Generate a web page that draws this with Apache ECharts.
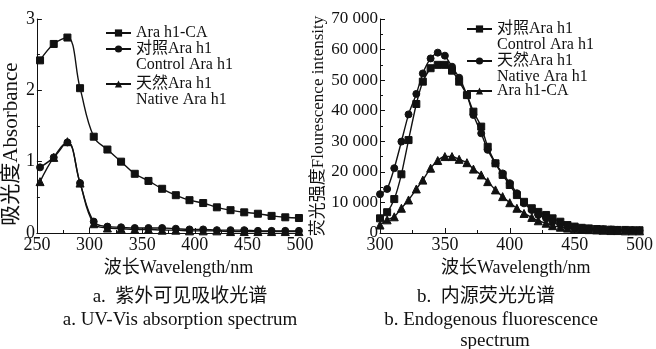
<!DOCTYPE html>
<html>
<head>
<meta charset="utf-8">
<script src="https://cdn.jsdelivr.net/npm/echarts@6/dist/echarts.min.js"></script>
<style>
html,body{margin:0;padding:0;background:#fff;}
#chart{width:656px;height:349px;}
</style>
</head>
<body>
<div id="chart"></div>
<script>
// a. UV-Vis absorption
const uvWave = [253, 266, 279, 291, 304, 317, 330, 343, 356, 369, 382, 395, 408, 421, 434, 447, 460, 473, 486, 499];
const uvCA = [2.42, 2.65, 2.74, 2.03, 1.35, 1.17, 1.00, 0.83, 0.73, 0.62, 0.53, 0.46, 0.42, 0.36, 0.32, 0.29, 0.27, 0.24, 0.22, 0.21];
const uvControl = [0.92, 1.06, 1.27, 0.70, 0.16, 0.09, 0.08, 0.07, 0.07, 0.07, 0.06, 0.05, 0.05, 0.04, 0.04, 0.04, 0.03, 0.03, 0.03, 0.03];
const uvNative = [0.72, 1.06, 1.28, 0.70, 0.13, 0.07, 0.06, 0.05, 0.05, 0.04, 0.04, 0.03, 0.03, 0.03, 0.02, 0.02, 0.02, 0.02, 0.02, 0.02];

// b. endogenous fluorescence
const flWave = [300, 305.5, 311, 316.5, 322, 328, 333, 339, 344.5, 350, 355.5, 361, 367, 372, 378, 383, 389, 394.5, 400,
  405.5, 411, 417, 422, 428, 433, 439, 444.5, 450, 455.5, 461, 467, 472, 478, 483, 489, 494.5, 500];
const flControl = [4800, 6800, 11100, 19200, 30400, 42200, 49500, 53900, 55000, 55000, 53100, 49500, 45100, 39700, 34800, 28200, 22800, 19000, 15700,
  12400, 10200, 8100, 6900, 5900, 4800, 3700, 2600, 2100, 1700, 1500, 1300, 1200, 1100, 1000, 1000, 900, 900];
const flNative = [12700, 14400, 21200, 29900, 38800, 45500, 52200, 57100, 59000, 58000, 54400, 50800, 45100, 38600, 32600, 27200, 22800, 19500, 16300,
  13000, 9700, 7500, 5900, 4800, 3700, 2900, 2300, 1900, 1600, 1400, 1300, 1200, 1100, 1000, 900, 900, 800];
const flCA = [2600, 4300, 5300, 8100, 10800, 14400, 17300, 21200, 23700, 25000, 25000, 24100, 23000, 20900, 19000, 16800, 14100, 11900, 9900,
  8100, 6400, 5100, 4000, 3200, 2400, 1900, 1600, 1400, 1200, 1100, 1000, 900, 800, 800, 700, 700, 700];

const uvTicks = [250, 300, 350, 400, 450, 500];
const flTicks = [300, 350, 400, 450, 500];

// blank first line keeps the icon on the first real line of a two-line entry
const legendText = {
  uvCA: 'Ara h1-CA',
  uvControl: '\n对照Ara h1\nControl Ara h1',
  uvNative: '\n天然Ara h1\nNative Ara h1',
  flControl: '\n对照Ara h1\nControl Ara h1',
  flNative: '\n天然Ara h1\nNative Ara h1',
  flCA: 'Ara h1-CA'
};

const font = '"Liberation Serif", "Noto Sans CJK SC", serif';
const ink = '#111';
const pair = (xs, ys) => xs.map((x, i) => [x, ys[i]]);

const mChart = echarts.init(document.getElementById('chart'));

function xAxisOf(gridIndex, ticks) {
  return {
    type: 'value', gridIndex,
    min: ticks[0], max: ticks[ticks.length - 1], interval: 50,
    name: '波长Wavelength/nm', nameLocation: 'middle', nameGap: 22,
    nameTextStyle: {fontFamily: font, fontSize: 18, color: ink, padding: [0, 0, 0, gridIndex === 0 ? 20 : 12]},
    axisLine: {lineStyle: {color: ink, width: 1}},
    axisTick: {inside: true, length: 5, lineStyle: {color: ink}},
    minorTick: {show: true, splitNumber: 2, length: 3, lineStyle: {color: ink}},
    splitLine: {show: false},
    axisLabel: {fontFamily: font, fontSize: 18, color: ink, margin: 3, showMinLabel: true, showMaxLabel: true}
  };
}

function lineSeries(name, xi, yi, data, symbol, smooth) {
  return {
    name, type: 'line', xAxisIndex: xi, yAxisIndex: yi, data,
    symbol, symbolSize: symbol === 'triangle' ? 8 : 7, smooth,
    lineStyle: {color: ink, width: 1.4},
    itemStyle: {color: ink, borderColor: ink},
    emphasis: {disabled: true}
  };
}

function oneLegend(name, left, iconY, threeLines) {
  const lh = 16;
  return {
    data: [name],
    left, top: iconY - (threeLines ? 1.5 * lh : 0.5 * lh),
    padding: 0, itemWidth: 25, itemHeight: 9, itemGap: 0,
    selectedMode: false,
    formatter: n => legendText[n],
    textStyle: {fontFamily: font, fontSize: 16, lineHeight: lh, color: ink, padding: 0}
  };
}

function caption(text, x, y, size) {
  return {
    type: 'text', x, y,
    style: {text, fontFamily: font, fontSize: size, fill: ink, align: 'center', verticalAlign: 'middle'}
  };
}

const option = {
  animation: false,
  grid: [
    {left: 36, top: 19, width: 264, height: 214},
    {left: 380, top: 19, width: 264, height: 214}
  ],
  xAxis: [xAxisOf(0, uvTicks), xAxisOf(1, flTicks)],
  yAxis: [
    {
      type: 'value', gridIndex: 0, min: 0, max: 3, interval: 1,
      name: '吸光度Absorbance', nameLocation: 'middle', nameGap: 13, nameRotate: 90,
      nameTextStyle: {fontFamily: font, fontSize: 21, color: ink, padding: [0, 36, 0, 0]},
      axisLine: {show: true, lineStyle: {color: ink, width: 1}},
      axisTick: {show: true, inside: true, length: 5, lineStyle: {color: ink}},
      minorTick: {show: true, splitNumber: 2, length: 3, lineStyle: {color: ink}},
      splitLine: {show: false},
      axisLabel: {fontFamily: font, fontSize: 18, color: ink, margin: 2}
    },
    {
      type: 'value', gridIndex: 1, min: 0, max: 70000, interval: 10000,
      name: '荧光强度Flourescence intensity', nameLocation: 'middle', nameGap: 47, nameRotate: 90,
      nameTextStyle: {fontFamily: font, fontSize: 17, color: ink},
      axisLine: {show: true, lineStyle: {color: ink, width: 1}},
      axisTick: {show: true, inside: true, length: 5, lineStyle: {color: ink}},
      minorTick: {show: true, splitNumber: 2, length: 3, lineStyle: {color: ink}},
      splitLine: {show: false},
      axisLabel: {
        fontFamily: font, fontSize: 17, color: ink, margin: 2,
        formatter: v => v === 0 ? '0' : (v / 1000) + ' 000'
      }
    }
  ],
  legend: [
    oneLegend('uvCA', 105, 33, false),
    oneLegend('uvControl', 105, 49, true),
    oneLegend('uvNative', 105, 84, true),
    oneLegend('flControl', 466, 29, true),
    oneLegend('flNative', 466, 61, true),
    oneLegend('flCA', 466, 91, false)
  ],
  series: [
    lineSeries('uvCA', 0, 0, pair(uvWave, uvCA), 'rect', 0.4),
    lineSeries('uvControl', 0, 0, pair(uvWave, uvControl), 'circle', 0.4),
    lineSeries('uvNative', 0, 0, pair(uvWave, uvNative), 'triangle', 0.4),
    lineSeries('flControl', 1, 1, pair(flWave, flControl), 'rect', 0.2),
    lineSeries('flNative', 1, 1, pair(flWave, flNative), 'circle', 0.2),
    lineSeries('flCA', 1, 1, pair(flWave, flCA), 'triangle', 0.2)
  ],
  graphic: [
    caption('a.  紫外可见吸收光谱', 180, 297, 19),
    caption('a. UV-Vis absorption spectrum', 180, 320, 19),
    caption('b.  内源荧光光谱', 486, 297, 19),
    caption('b. Endogenous fluorescence', 491, 320, 19),
    caption('spectrum', 495, 341, 19)
  ]
};

mChart.setOption(option);
</script>
</body>
</html>
